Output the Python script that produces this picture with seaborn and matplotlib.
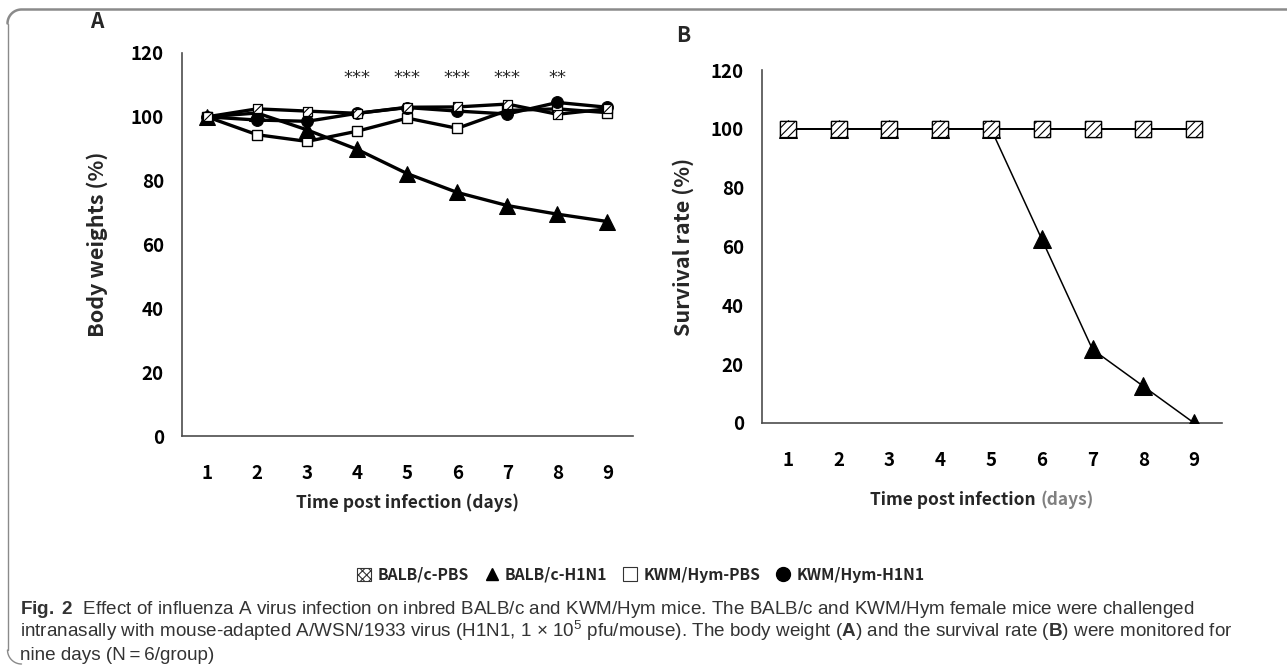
import numpy as np
import pandas as pd
import seaborn as sns
import matplotlib
matplotlib.use("Agg")
import matplotlib.pyplot as plt
from matplotlib.lines import Line2D
from matplotlib.patches import Patch

# ---------------- data ----------------
days = [1, 2, 3, 4, 5, 6, 7, 8, 9]
groups = ["BALB/c-PBS", "BALB/c-H1N1", "KWM/Hym-PBS", "KWM/Hym-H1N1"]

bw_balb_pbs = [100, 102.5, 101.8, 101.1, 103.0, 103.1, 104.0, 100.8, 102.5]
bw_balb_h1n1 = [100, 101.2, 95.9, 89.8, 82.2, 76.3, 72.2, 69.5, 67.2]
bw_kwm_pbs = [100, 94.4, 92.3, 95.5, 99.6, 96.4, 102.0, 102.5, 101.3]
bw_kwm_h1n1 = [100, 99.0, 98.6, 101.1, 102.9, 101.8, 100.9, 104.5, 103.0]

sr_balb_pbs = [100, 100, 100, 100, 100, 100, 100, 100, 100]
sr_balb_h1n1 = [100, 100, 100, 100, 100, 62.5, 25, 12.5, 0]
sr_kwm_pbs = [100, 100, 100, 100, 100, 100, 100, 100, 100]
sr_kwm_h1n1 = [100, 100, 100, 100, 100, 100, 100, 100, 100]

sig_days = [4, 5, 6, 7, 8]
sig_labels = ["***", "***", "***", "***", "**"]

xlabel_text = "Time post infection"
xlabel_unit = "(days)"
ylabel_a = "Body weights (%)"
ylabel_b = "Survival rate (%)"
yticks = [0, 20, 40, 60, 80, 100, 120]

caption_lines = [
    r"$\mathbf{Fig.\ 2}$  Effect of influenza A virus infection on inbred BALB/c and KWM/Hym mice. The BALB/c and KWM/Hym female mice were challenged",
    r"intranasally with mouse-adapted A/WSN/1933 virus (H1N1, 1 $\times$ 10$^5$ pfu/mouse). The body weight ($\mathbf{A}$) and the survival rate ($\mathbf{B}$) were monitored for",
    "nine days (N\u2009=\u20096/group)",
]

bw = pd.DataFrame({"day": days * 4,
                   "group": np.repeat(groups, len(days)),
                   "value": bw_balb_pbs + bw_balb_h1n1 + bw_kwm_pbs + bw_kwm_h1n1})
sr = pd.DataFrame({"day": days * 4,
                   "group": np.repeat(groups, len(days)),
                   "value": sr_balb_pbs + sr_balb_h1n1 + sr_kwm_pbs + sr_kwm_h1n1})

# ---------------- style ----------------
sns.set_theme(style="white")
CHART_FONT = ["Noto Sans CJK KR", "DejaVu Sans"]
plt.rcParams["font.family"] = CHART_FONT
plt.rcParams["hatch.linewidth"] = 0.8
plt.rcParams["mathtext.fontset"] = "custom"
plt.rcParams["mathtext.rm"] = "Liberation Sans"
plt.rcParams["mathtext.it"] = "Liberation Sans:italic"
plt.rcParams["mathtext.bf"] = "Liberation Sans:bold"

W, H = 1287, 665
fig = plt.figure(figsize=(W / 100, H / 100), dpi=100)

def px_axes(left, top, right, bottom):
    return fig.add_axes([left / W, 1 - bottom / H, (right - left) / W, (bottom - top) / H])

axA = px_axes(182, 53, 633, 436)
axB = px_axes(762, 70, 1222, 423)

def draw_panel(ax, df, lw, ms_tri, ms_sq, ms_circ, ms_hsq):
    kw = dict(x="day", y="value", ax=ax, color="black", linewidth=lw, legend=False)
    sub = lambda g: df[df["group"] == g]
    sns.lineplot(data=sub("KWM/Hym-PBS"), marker="s", markersize=ms_sq,
                 markerfacecolor="white", markeredgecolor="black", markeredgewidth=1.0, zorder=3, **kw)
    sns.lineplot(data=sub("KWM/Hym-H1N1"), marker="o", markersize=ms_circ,
                 markerfacecolor="black", markeredgecolor="black", zorder=3, **kw)
    sns.lineplot(data=sub("BALB/c-H1N1"), marker="^", markersize=ms_tri,
                 markerfacecolor="black", markeredgecolor="black", zorder=4, **kw)
    sns.lineplot(data=sub("BALB/c-PBS"), zorder=4, **kw)
    sns.scatterplot(data=sub("BALB/c-PBS"), x="day", y="value", ax=ax, marker="s",
                    s=ms_hsq ** 2, facecolor="white", edgecolor="black", linewidth=0.9,
                    hatch="////", zorder=5, legend=False)

draw_panel(axA, bw, 2.4, 12, 6.5, 8.5, 6.5)
draw_panel(axB, sr, 1.1, 13, 11, 10, 11.5)

spine_col = "#4d4d4d"
for ax, xl in [(axA, (0.5, 9.51)), (axB, (0.49, 9.55))]:
    ax.set_xlim(*xl)
    ax.set_ylim(0, 120)
    ax.set_xticks(days)
    ax.set_xticklabels([str(d) for d in days])
    ax.set_yticks(yticks)
    ax.set_yticklabels([str(t) for t in yticks])
    for s in ["top", "right"]:
        ax.spines[s].set_visible(False)
    for s in ["left", "bottom"]:
        ax.spines[s].set_color(spine_col)
        ax.spines[s].set_linewidth(1.2)
    ax.tick_params(axis="both", length=0, labelsize=13.5, colors="black")
    ax.tick_params(axis="y", pad=13)
    ax.tick_params(axis="x", pad=20)
    for lab in ax.get_xticklabels() + ax.get_yticklabels():
        lab.set_fontweight("bold")
    ax.set_xlabel("")
    ax.set_ylabel("")
    ax.patch.set_alpha(0)

axA.set_ylabel(ylabel_a, fontsize=15.5, fontweight="bold")
axA.yaxis.set_label_coords(-0.163, 0.5)
axB.set_ylabel(ylabel_b, fontsize=15.5, fontweight="bold")
axB.yaxis.set_label_coords(-0.148, 0.5)

axA.set_xlabel(xlabel_text + " " + xlabel_unit, fontsize=12.5, fontweight="bold")
axA.xaxis.set_label_coords(0.5, -0.15)

tB = axB.text(0.42, -0.218, xlabel_text + " ", transform=axB.transAxes, fontsize=12.5,
              fontweight="bold", ha="center", va="center")
axB.annotate(xlabel_unit, xy=(1, 0), xycoords=tB, xytext=(0, 0), textcoords="offset points",
             ha="left", va="bottom", fontsize=12.5, fontweight="bold", color="#808080")

for d, s in zip(sig_days, sig_labels):
    axA.text(d, 112.3, s, ha="center", va="center", fontsize=13, family=["DejaVu Sans"])

fig.text(97 / W, 1 - 22 / H, "A", fontsize=15, fontweight="bold", ha="center", va="center")
fig.text(683 / W, 1 - 35 / H, "B", fontsize=15, fontweight="bold", ha="center", va="center")

# ---------------- legend ----------------
handles = [
    Patch(facecolor="white", edgecolor="#333333", hatch="xxxx", linewidth=0.8),
    Line2D([], [], marker="^", color="black", linestyle="none", markersize=9),
    Line2D([], [], marker="s", markerfacecolor="white", markeredgecolor="#333333",
           linestyle="none", markersize=10, markeredgewidth=0.8),
    Line2D([], [], marker="o", color="black", linestyle="none", markersize=10),
]
fig.legend(handles, groups, loc="center", bbox_to_anchor=(641 / W, 1 - 575 / H), ncol=4,
           frameon=False, handlelength=0.9, handleheight=0.9, handletextpad=0.4,
           columnspacing=1.0, prop={"weight": "bold", "size": 11.3, "family": CHART_FONT})

# ---------------- caption ----------------
CAP = ["Liberation Sans", "DejaVu Sans"]
cap_size = 13.6
for i, (line, base) in enumerate(zip(caption_lines, [614, 637, 660])):
    fig.text(20 / W, 1 - base / H, line, fontsize=cap_size, family=CAP,
             ha="left", va="baseline", color="#333333")

# ---------------- page border (rounded box) ----------------
r = 14.0
x0, y0 = 7.5, 9.5
ang = np.linspace(0, np.pi / 2, 20)
top_x = list(x0 + r - r * np.cos(ang)) + [W + 5]
top_y = list(y0 + r - r * np.sin(ang)) + [y0]
fig.add_artist(Line2D([px / W for px in top_x], [1 - py / H for py in top_y],
                      color="#8a8a8a", linewidth=1.8, transform=fig.transFigure))
fig.add_artist(Line2D([x0 / W, x0 / W], [1 - (y0 + r) / H, 1 - 650 / H],
                      color="#8a8a8a", linewidth=1.0, transform=fig.transFigure))
bot_x = list(x0 + r - r * np.cos(ang))
bot_y = list(650 + r * np.sin(ang))
fig.add_artist(Line2D([px / W for px in bot_x], [1 - py / H for py in bot_y],
                      color="#8a8a8a", linewidth=1.0, transform=fig.transFigure))

fig.savefig("out.png", dpi=100, facecolor="white")
